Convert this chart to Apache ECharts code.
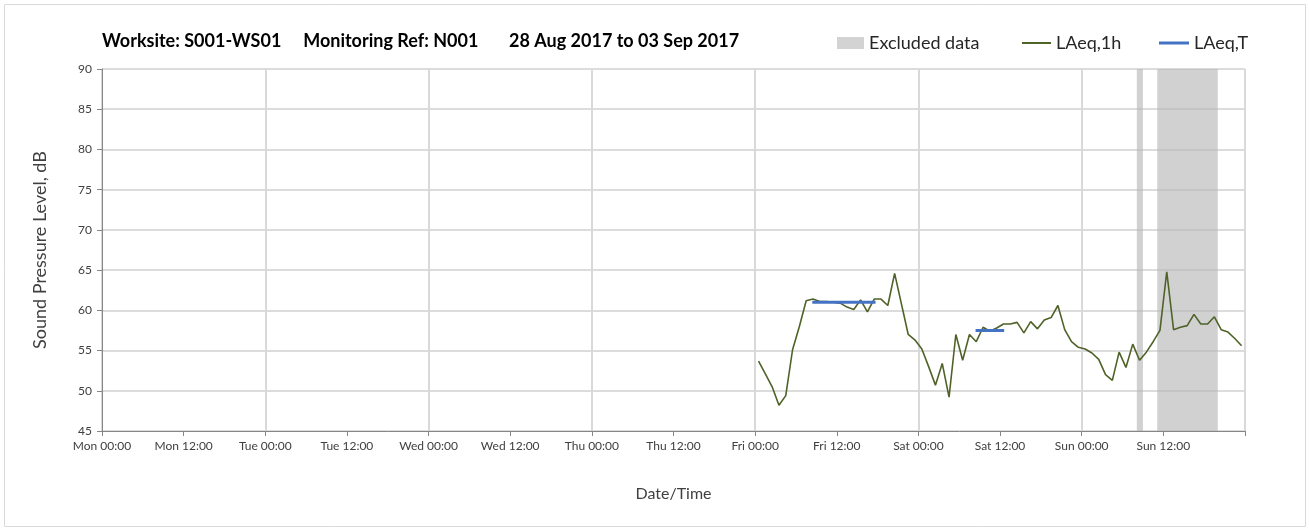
<!DOCTYPE html>
<html>
<head>
<meta charset="utf-8">
<script src="https://cdn.jsdelivr.net/npm/echarts@6.0.0/dist/echarts.min.js"></script>
<style>
  html, body { margin: 0; padding: 0; background: #fff; }
  #chart { width: 1309px; height: 531px; }
</style>
</head>
<body>
<div id="chart"></div>
<script>
  // hours counted from Mon 28 Aug 2017 00:00
  var dayNames = ['Mon', 'Tue', 'Wed', 'Thu', 'Fri', 'Sat', 'Sun'];
  var tickLabels = ['00:00', '12:00'];

  // LAeq,1h - hourly values, first one at Fri 00:30
  var laeq1hStart = 96.5;
  var laeq1h = [
    53.7, 52.1, 50.5, 48.2, 49.4, 55.1, 58.0, 61.2, 61.4, 61.1,
    61.1, 61.0, 60.9, 60.4, 60.1, 61.3, 59.8, 61.4, 61.4, 60.6,
    64.6, 60.8, 57.0, 56.3, 55.2, 53.0, 50.7, 53.4, 49.2, 57.0,
    53.8, 57.0, 56.1, 57.9, 57.4, 57.8, 58.3, 58.3, 58.5, 57.2,
    58.6, 57.7, 58.8, 59.1, 60.6, 57.6, 56.1, 55.4, 55.2, 54.7,
    53.9, 52.0, 51.3, 54.8, 52.9, 55.8, 53.8, 54.8, 56.1, 57.5,
    64.8, 57.6, 57.9, 58.1, 59.5, 58.3, 58.3, 59.2, 57.6, 57.3,
    56.5, 55.6
  ];

  // LAeq,T periods [startHour, endHour, level]
  var laeqT = [
    [104.4, 113.7, 61.0],
    [128.4, 132.6, 57.5]
  ];

  // excluded data periods [startHour, endHour]
  var excluded = [
    [152.1, 153.0],
    [155.1, 164.0]
  ];

  var colors = ['#d3d3d3', '#4f6228', '#4472c4'];
  var font = 'Lato, "Open Sans", sans-serif';

  var myChart = echarts.init(document.getElementById('chart'));

  var lineData = laeq1h.map(function (v, i) { return [laeq1hStart + i, v]; });

  var series = [
    {
      name: 'Excluded data',
      type: 'line',
      color: colors[0],
      data: [],
      z: 1,
      markArea: {
        silent: true,
        itemStyle: { color: 'rgba(185,185,185,0.65)' },
        data: excluded.map(function (p) { return [{ xAxis: p[0] }, { xAxis: p[1] }]; })
      }
    },
    {
      name: 'LAeq,1h',
      type: 'line',
      color: colors[1],
      symbol: 'none',
      z: 3,
      lineStyle: { width: 1.6, color: colors[1] },
      data: lineData
    }
  ];
  laeqT.forEach(function (p) {
    series.push({
      name: 'LAeq,T',
      type: 'line',
      color: colors[2],
      symbol: 'none',
      z: 4,
      lineStyle: { width: 3, color: colors[2] },
      data: [[p[0], p[2]], [p[1], p[2]]]
    });
  });

  var legendText = { fontFamily: font, fontSize: 18, color: '#262626' };

  var option = {
    animation: false,
    textStyle: { fontFamily: font },
    title: {
      text: 'Worksite: S001-WS01     Monitoring Ref: N001       28 Aug 2017 to 03 Sep 2017',
      left: 97,
      top: 27,
      textStyle: { fontFamily: font, fontSize: 18, fontWeight: 'bold', color: '#000' }
    },
    legend: [
      {
        left: 837, top: 34, padding: 0, itemWidth: 27, itemHeight: 12, icon: 'rect',
        textStyle: legendText,
        data: [{ name: 'Excluded data', itemStyle: { color: colors[0] } }]
      },
      {
        left: 1022, top: 34, padding: 0, itemWidth: 29, itemHeight: 2, icon: 'rect',
        textStyle: legendText,
        data: ['LAeq,1h']
      },
      {
        left: 1159, top: 34, padding: 0, itemWidth: 30, itemHeight: 3, icon: 'rect',
        textStyle: legendText,
        data: ['LAeq,T']
      }
    ],
    graphic: [
      {
        type: 'rect',
        shape: { x: 4.5, y: 4.5, width: 1301, height: 522 },
        style: { fill: 'none', stroke: '#d9d9d9', lineWidth: 1 },
        silent: true
      }
    ],
    grid: { left: 102, right: 64, top: 69, bottom: 100 },
    xAxis: [
      {
        type: 'value',
        min: 0,
        max: 168,
        interval: 12,
        name: 'Date/Time',
        nameLocation: 'middle',
        nameGap: 55,
        nameTextStyle: { fontFamily: font, fontSize: 16, color: '#404040' },
        axisLine: { lineStyle: { color: '#868686', width: 1 } },
        axisTick: { show: true, length: 5, lineStyle: { color: '#868686' } },
        axisLabel: {
          margin: 9,
          fontSize: 12,
          color: '#404040',
          fontFamily: font,
          formatter: function (h) {
            if (h >= 168) return '';
            return dayNames[Math.floor(h / 24)] + ' ' + tickLabels[(h % 24) / 12];
          }
        },
        splitLine: { show: false }
      },
      {
        type: 'value',
        min: 0,
        max: 168,
        interval: 24,
        axisLine: { show: false },
        axisTick: { show: false },
        axisLabel: { show: false },
        splitLine: { show: true, lineStyle: { color: '#d9d9d9', width: 2 } }
      }
    ],
    yAxis: {
      type: 'value',
      min: 45,
      max: 90,
      interval: 5,
      name: 'Sound Pressure Level, dB',
      nameLocation: 'middle',
      nameGap: 53,
      nameTextStyle: { fontFamily: font, fontSize: 18, color: '#404040' },
      axisLine: { show: true, lineStyle: { color: '#868686', width: 1 } },
      axisTick: { show: true, length: 5, lineStyle: { color: '#868686' } },
      axisLabel: { margin: 10, fontSize: 12, color: '#404040', fontFamily: font },
      splitLine: { show: true, lineStyle: { color: '#d0d0d0', width: 1.5 } }
    },
    series: series
  };

  myChart.setOption(option);
</script>
</body>
</html>
